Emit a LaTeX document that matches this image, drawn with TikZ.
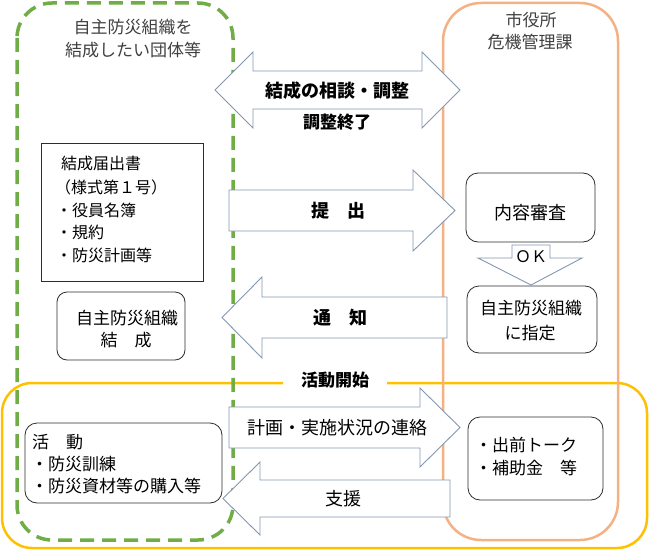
\documentclass[tikz,border=0pt]{standalone}
\usepackage{fontspec}
\setmainfont{Noto Sans CJK JP}
\definecolor{grn}{RGB}{112,173,71}
\definecolor{org}{RGB}{244,177,131}
\definecolor{ylw}{RGB}{255,192,0}
\definecolor{arrline}{RGB}{132,151,176}
\definecolor{boxline}{RGB}{45,45,45}
\definecolor{ttl}{RGB}{64,64,64}
\begin{document}
\begin{tikzpicture}[x=1pt,y=-1pt,
  arr/.style={draw=arrline, fill=white, line width=0.9pt, line join=miter},
  sqbox/.style={draw=boxline, fill=white, line width=0.8pt, inner sep=0pt},
  rbox/.style={sqbox, rounded corners=12pt},
  lbl/.style={font=\fontsize{18}{20}\selectfont\bfseries, inner sep=0pt},
  txt/.style={font=\fontsize{17}{20}\selectfont, inner sep=0pt},
  doc/.style={font=\fontsize{16}{18}\selectfont, inner sep=0pt, anchor=west},
  ttltxt/.style={font=\fontsize{17}{20}\selectfont, text=ttl, inner sep=0pt}]
\useasboundingbox (0,0) rectangle (650,551);
% group frames
\draw[ylw, line width=2.5pt, rounded corners=30pt]
  (387,383) -- (647,383) -- (647,548) -- (2,548) -- (2,383) -- (283,383);
\draw[grn, line width=3.5pt, dash pattern=on 14pt off 8pt, rounded corners=35pt]
  (17,3) rectangle (233,540);
\draw[org, line width=2.5pt, rounded corners=38pt]
  (443,3) rectangle (618,540);
% titles
\node[ttltxt] (t1a) at (133,27) {自主防災組織を};
\node[ttltxt] (t1b) at (133,50) {結成したい団体等};
\node[ttltxt] (t2a) at (531,20) {市役所};
\node[ttltxt] (t2b) at (530,42) {危機管理課};
% boxes
\node[sqbox, minimum width=162pt, minimum height=138pt] (docbox) at (122,212) {};
\node[doc] (d1) at (61,163) {結成届出書};
\node[doc] (d2) at (55,187) {（様式第１号）};
\node[doc] (d3) at (56,210) {・役員名簿};
\node[doc] (d4) at (56,232) {・規約};
\node[doc] (d5) at (56,255) {・防災計画等};
\node[rbox, rounded corners=10pt, minimum width=128pt, minimum height=68pt] (kessei) at (121,326) {};
\node[txt] (k1) at (127,318) {自主防災組織};
\node[txt] (k2) at (126,340) {結　成};
\node[rbox, minimum width=197pt, minimum height=80pt] (katsudo) at (123.5,463) {};
\node[txt, anchor=west] (a1) at (32,442) {活　動};
\node[txt, anchor=west] (a2) at (31,464) {・防災訓練};
\node[txt, anchor=west] (a3) at (31,486) {・防災資材等の購入等};
\node[rbox, minimum width=129pt, minimum height=69pt] (naiyo) at (530.5,207.5) {};
\node[txt, font=\fontsize{18}{20}\selectfont] (n1) at (530,213) {内容審査};
\node[rbox, minimum width=130pt, minimum height=67pt] (shitei) at (532,319.5) {};
\node[txt] (s1) at (531,308) {自主防災組織};
\node[txt] (s2) at (530,333) {に指定};
\node[rbox, minimum width=135pt, minimum height=83pt] (demae) at (535.5,458.5) {};
\node[txt, anchor=west] (m1) at (475,445) {・出前トーク};
\node[txt, anchor=west] (m2) at (475,468) {・補助金　等};
% block arrows
\draw[arr] (215,90) -- (253,52) -- (253,71) -- (422,71) -- (422,52) -- (460,90)
  -- (422,128) -- (422,109) -- (253,109) -- (253,128) -- cycle;
\node[lbl] (l1) at (337,91) {結成の相談・調整};
\node[lbl, font=\fontsize{17}{20}\selectfont\bfseries] (l2) at (337,122) {調整終了};
\draw[arr] (229,190) -- (413,190) -- (413,170) -- (455,210.5) -- (413,251) -- (413,231) -- (229,231) -- cycle;
\node[lbl] (l3) at (338,211) {提　出};
\draw[arr] (222,317.5) -- (262,277) -- (262,297) -- (447,297) -- (447,338) -- (262,338) -- (262,358) -- cycle;
\node[lbl] (l4) at (340,318) {通　知};
\node[lbl, font=\fontsize{17}{20}\selectfont\bfseries] (l5) at (335,380) {活動開始};
\draw[arr] (229,407) -- (420,407) -- (420,388) -- (460,427.5) -- (420,467) -- (420,448) -- (229,448) -- cycle;
\node[txt, font=\fontsize{18}{20}\selectfont] (l6) at (337,428) {計画・実施状況の連絡};
\draw[arr] (223,498.5) -- (260,462) -- (260,480) -- (450,480) -- (450,517) -- (260,517) -- (260,535) -- cycle;
\node[txt, font=\fontsize{18}{20}\selectfont] (l7) at (343,499) {支援};
\draw[arr] (512,245) -- (550,245) -- (550,258) -- (582,258) -- (531,285) -- (478,258) -- (512,258) -- cycle;
\node[txt, font=\fontsize{16}{18}\selectfont] (ok) at (531,257) {ＯＫ};
\end{tikzpicture}
\end{document}
